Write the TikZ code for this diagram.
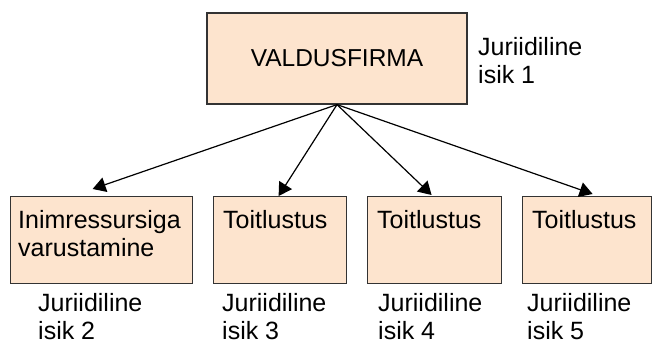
\documentclass[tikz,border=0pt]{standalone}
\usepackage{fontspec}
\setmainfont{Liberation Sans}
\usetikzlibrary{arrows.meta}
\definecolor{peach}{RGB}{253,228,206}
\definecolor{edgegray}{RGB}{51,51,51}

\begin{document}
\begin{tikzpicture}[x=1pt, y=-1pt,
  firm/.style={draw=edgegray, line width=1.2pt, fill=peach, inner sep=0pt},
  firmtext/.style={anchor=north west, inner sep=0pt, align=left, font=\fontsize{25}{28}\selectfont},
  link/.style={line width=1.2pt, -{Triangle[length=13pt,width=15pt]}}
]
\useasboundingbox (0,0) rectangle (652,345);
% valdusfirma
\node[firm, minimum width=260pt, minimum height=91pt, font=\fontsize{24.5}{28}\selectfont] (holding) at (337,58.5) {VALDUSFIRMA};
\node[firmtext] (isik1) at (478,37) {Juriidiline\\isik 1};
% tytarfirmad
\node[firm, anchor=north west, minimum width=182pt, minimum height=87pt] (b1) at (10,196) {};
\node[firm, anchor=north west, minimum width=133pt, minimum height=87pt] (b2) at (213,196) {};
\node[firm, anchor=north west, minimum width=134pt, minimum height=87pt] (b3) at (367,196) {};
\node[firm, anchor=north west, minimum width=129pt, minimum height=87pt] (b4) at (522,196) {};
\node[firmtext] (t1) at (18,210) {Inimressursiga\\varustamine};
\node[firmtext] (t2) at (223,210) {Toitlustus};
\node[firmtext] (t3) at (377,210) {Toitlustus};
\node[firmtext] (t4) at (532,210) {Toitlustus};
% isikud
\node[firmtext] (isik2) at (38,293.5) {Juriidiline\\isik 2};
\node[firmtext] (isik3) at (222,293.5) {Juriidiline\\isik 3};
\node[firmtext] (isik4) at (378,293.5) {Juriidiline\\isik 4};
\node[firmtext] (isik5) at (527,293.5) {Juriidiline\\isik 5};
% nooled
\draw[link] (holding.south) -- ([shift={(-9pt,7pt)}]b1.north);
\draw[link] (holding.south) -- ([shift={(-1.5pt,0pt)}]b2.north);
\draw[link] (holding.south) -- ([shift={(-3pt,1pt)}]b3.north);
\draw[link] (holding.south) -- ([shift={(5.5pt,2pt)}]b4.north);
\end{tikzpicture}
\end{document}
